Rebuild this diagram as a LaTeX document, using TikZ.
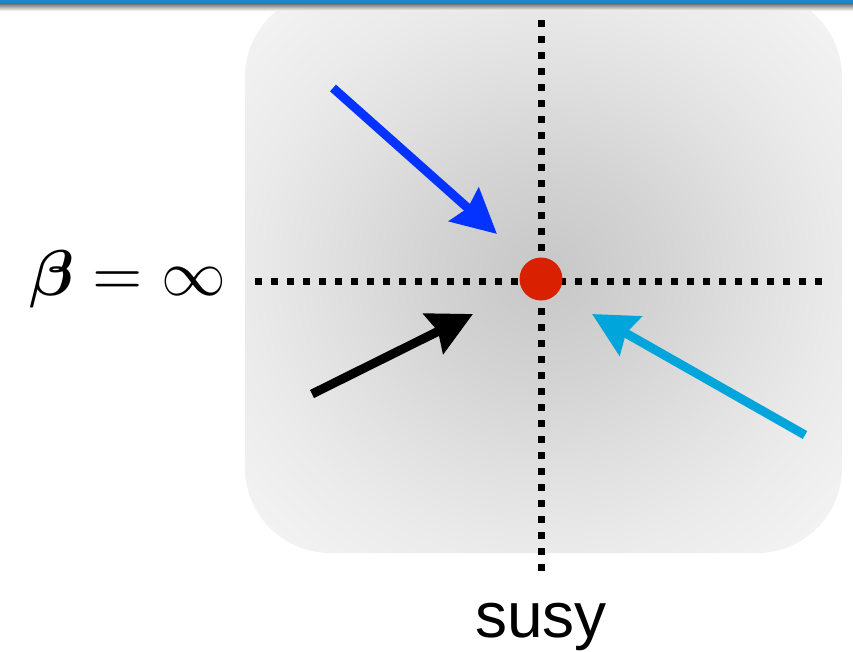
\documentclass[tikz,border=0pt]{standalone}
\usepackage{fontspec}
\usepackage{bm}
\newfontfamily\susyfont{Liberation Sans}
\usetikzlibrary{arrows.meta}
\definecolor{bgc0}{gray}{0.78}
\definecolor{bgc1}{gray}{0.83}
\definecolor{bgc2}{gray}{0.88}
\definecolor{bgc3}{gray}{0.92}
\definecolor{bgc4}{gray}{0.96}
\definecolor{arrblue}{HTML}{0433FF}
\definecolor{arrcyan}{HTML}{00A5DC}
\definecolor{dotred}{HTML}{D92000}
\definecolor{barblue}{HTML}{1A8AC6}
\pgfdeclareradialshading{bgshade}{\pgfpoint{0bp}{0bp}}{color(0bp)=(bgc0); color(10bp)=(bgc1); color(18bp)=(bgc2); color(25bp)=(bgc3); color(35bp)=(bgc4); color(50bp)=(bgc4)}
\tikzset{
  dotline/.style={line width=7pt, dash pattern=on 7pt off 9pt},
  bigarrow/.style={line width=9pt, -{Stealth[length=44pt,width=44pt,inset=5pt]}},
}
\begin{document}
\begin{tikzpicture}[x=1pt,y=-1pt]
\useasboundingbox (0,0) rectangle (853,652);
% background rounded square with radial gradient
\shade[shading=bgshade, rounded corners=85pt] (245,-8) rectangle (842,553);
% top bar
\shade[top color=black!60, bottom color=white] (0,3) rectangle (853,11);
\fill[barblue] (0,0) rectangle (853,3.5);
% coordinates
\coordinate (vtop) at (541,20);
\coordinate (vbot) at (541,572);
\coordinate (hleft) at (255,281);
\coordinate (hright) at (822,281);
\coordinate (bs) at (333,88);
\coordinate (be) at (497,234);
\coordinate (ks) at (312,394);
\coordinate (ke) at (473,314);
\coordinate (cs) at (805,435);
\coordinate (ce) at (592,314);
% dotted axes
\draw[dotline] (vtop) -- (vbot);
\draw[dotline] (hleft) -- (hright);
% red dot
\node[circle, fill=dotred, minimum size=43pt, inner sep=0pt] (dot) at (541,279) {};
% arrows
\draw[bigarrow, arrblue] (bs) -- (be);
\draw[bigarrow, black] (ks) -- (ke);
\draw[bigarrow, arrcyan] (cs) -- (ce);
% labels
\node[anchor=east, inner sep=0pt] (beta) at (226,279) {\resizebox{196pt}{!}{$\bm{\beta}=\infty$}};
\node[anchor=base, inner sep=0pt] (susy) at (541,637) {\fontsize{64}{66}\selectfont\susyfont susy};
\end{tikzpicture}
\end{document}
